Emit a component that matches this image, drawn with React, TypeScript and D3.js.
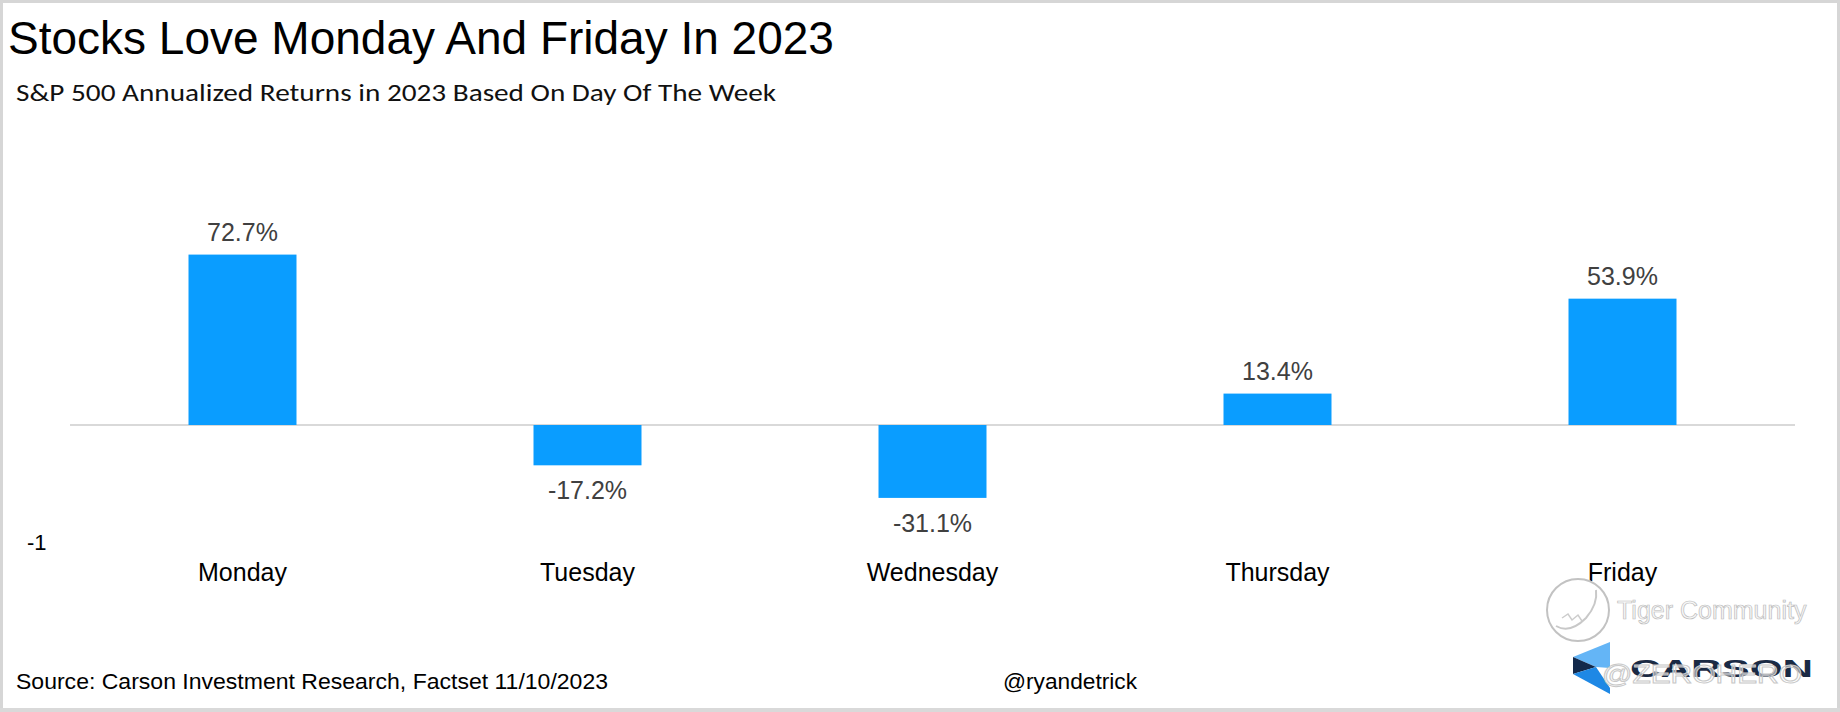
import React from "react";
import * as d3 from "d3";

const days = ["Monday", "Tuesday", "Wednesday", "Thursday", "Friday"];
const returns = [72.7, -17.2, -31.1, 13.4, 53.9];
const yTickValues = [-50];
const yTickLabels = ["-1"];

const W = 1840;
const H = 712;
const ARIAL = "'Liberation Sans', Arial, sans-serif";

export default function App() {
  const x = d3
    .scaleBand<string>()
    .domain(days)
    .range([70, 1795])
    .paddingInner(0.687)
    .paddingOuter(0.3435);
  const y = d3.scaleLinear().domain([-50, 100]).range([542.2, 190.6]);
  const y0 = y(0);
  const fmt = (v: number) => `${d3.format(".1f")(v).replace("\u2212", "-")}%`;

  return (
    <svg
      width={W}
      height={H}
      style={{ position: "absolute", left: 0, top: 0, background: "#fff" }}
    >
      <rect x={0} y={0} width={W} height={H} fill="#fff" />
      <rect x={1.5} y={1.5} width={W - 3} height={H - 4} fill="none" stroke="#d6d6d6" strokeWidth={3} />
      <rect x={0} y={H - 4} width={W} height={4} fill="#d9d9d9" />

      <text x={8} y={54} fontFamily={ARIAL} fontSize={46} fill="#000">
        Stocks Love Monday And Friday In 2023
      </text>
      <text
        x={16}
        y={101}
        fontFamily="Carlito, 'Open Sans', sans-serif"
        fontSize={24}
        textLength={760}
        lengthAdjust="spacingAndGlyphs"
        fill="#111"
      >
        S&amp;P 500 Annualized Returns in 2023 Based On Day Of The Week
      </text>

      {/* zero line */}
      <line x1={70} x2={1795} y1={y0} y2={y0} stroke="#d9d9d9" strokeWidth={2} />

      {/* bars */}
      {days.map((d, i) => {
        const v = returns[i];
        const bx = x(d)!;
        const top = Math.min(y(v), y0);
        const h = Math.abs(y(v) - y0);
        return <rect key={d} x={bx} y={top} width={x.bandwidth()} height={h} fill="#0a9dff" />;
      })}

      {/* value labels */}
      {days.map((d, i) => {
        const v = returns[i];
        const cx = x(d)! + x.bandwidth() / 2;
        const ly = v >= 0 ? y(v) - 14 : y(v) + 34;
        return (
          <text key={d} x={cx} y={ly} textAnchor="middle" fontFamily={ARIAL} fontSize={25} fill="#404040">
            {fmt(v)}
          </text>
        );
      })}

      {/* y tick label */}
      {yTickValues.map((t, i) => (
        <text key={t} x={27} y={y(t) + 8} fontFamily={ARIAL} fontSize={22} fill="#000">
          {yTickLabels[i]}
        </text>
      ))}

      {/* category labels */}
      {days.map((d) => (
        <text
          key={d}
          x={x(d)! + x.bandwidth() / 2}
          y={581}
          textAnchor="middle"
          fontFamily={ARIAL}
          fontSize={25}
          fill="#000"
        >
          {d}
        </text>
      ))}

      {/* footer */}
      <text
        x={16}
        y={689}
        fontFamily={ARIAL}
        fontSize={22}
        textLength={592}
        lengthAdjust="spacingAndGlyphs"
        fill="#000"
      >
        Source: Carson Investment Research, Factset 11/10/2023
      </text>
      <text
        x={1003}
        y={689}
        fontFamily={ARIAL}
        fontSize={22}
        textLength={134}
        lengthAdjust="spacingAndGlyphs"
        fill="#000"
      >
        @ryandetrick
      </text>

      {/* watermarks */}
      <g>
        <circle cx={1578} cy={610} r={31} fill="none" stroke="#c2c2c2" strokeWidth={2} />
        <path d="M1556,626 Q1570,634 1586,618 Q1598,604 1596,590" fill="none" stroke="#c8c8c8" strokeWidth={2} />
        <path d="M1562,618 l6,-4 l4,6 l6,-5 l4,6" fill="none" stroke="#cccccc" strokeWidth={1.5} />
        <text
          x={1617}
          y={619}
          fontFamily={ARIAL}
          fontSize={25}
          fill="#f7f7f7"
          stroke="#bcbcbc"
          strokeWidth={0.7}
        >
          Tiger Community
        </text>
      </g>
      <g>
        <polygon points="1573,657 1610,642 1610,668 1596,667" fill="#64b5f6" />
        <polygon points="1573,657 1596,667 1573,674" fill="#13294b" />
        <polygon points="1573,674 1596,667 1610,688 1610,694" fill="#1e88e5" />
        <text
          x={1630}
          y={677}
          fontFamily={ARIAL}
          fontWeight="bold"
          fontSize={24}
          textLength={183}
          lengthAdjust="spacingAndGlyphs"
          fill="#1a2a44"
        >
          CARSON
        </text>
        <text
          x={1602}
          y={683}
          fontFamily={ARIAL}
          fontSize={26}
          fill="#ffffff"
          fillOpacity={0.5}
          stroke="#c8c8c8"
          strokeWidth={1}
          textLength={200}
          lengthAdjust="spacingAndGlyphs"
        >
          @ZEROHERO
        </text>
      </g>
    </svg>
  );
}
